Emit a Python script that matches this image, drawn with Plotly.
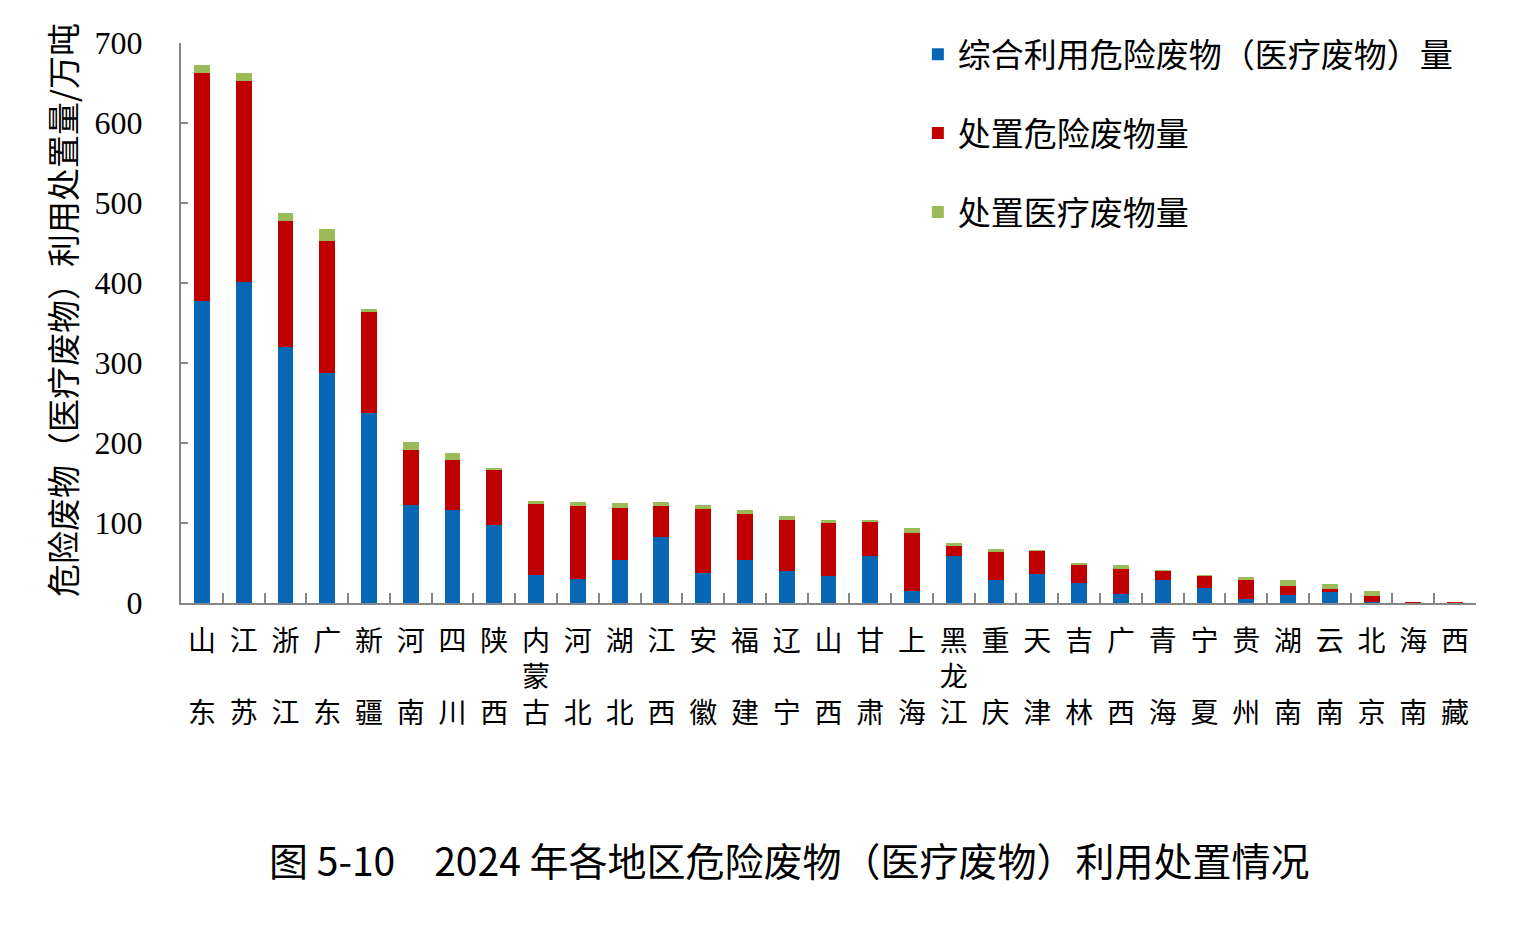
import plotly.graph_objects as go

regions = ["山东", "江苏", "浙江", "广东", "新疆", "河南", "四川", "陕西", "内蒙古", "河北",
           "湖北", "江西", "安徽", "福建", "辽宁", "山西", "甘肃", "上海", "黑龙江", "重庆",
           "天津", "吉林", "广西", "青海", "宁夏", "贵州", "湖南", "云南", "北京", "海南", "西藏"]

utilized = [378, 401, 320, 287, 237, 122, 116, 97, 35, 30,
            54, 83, 38, 54, 40, 34, 59, 15, 59, 29,
            36, 25, 11, 29, 19, 5, 10, 14, 1, 0, 0]
disposed = [284, 252, 157, 166, 127, 69, 63, 70, 89, 91,
            65, 38, 79, 57, 64, 66, 42, 72, 12, 35,
            29, 23, 31, 11, 15, 24, 11, 4, 8, 1, 0.6]
medical = [11, 10, 11, 15, 3, 10, 9, 2, 3, 5,
           6, 5, 5, 5, 5, 4, 3, 7, 4, 3,
           1, 2, 6, 1, 1, 3, 8, 6, 6, 0, 0]

series_names = ["综合利用危险废物（医疗废物）量", "处置危险废物量", "处置医疗废物量"]
series_colors = ["#0767b5", "#c00000", "#9bbb59"]

y_ticks = [0, 100, 200, 300, 400, 500, 600, 700]
y_title = "危险废物（医疗废物）利用处置量/万吨"
chart_title = "图 5-10　2024 年各地区危险废物（医疗废物）利用处置情况"


def stack_label(name):
    chars = list(name)
    if len(chars) == 2:
        return chars[0] + "<br> <br>" + chars[1]
    return "<br>".join(chars)


tick_text = [stack_label(r) for r in regions]

fig = go.Figure()
for name, vals, col in zip(series_names, [utilized, disposed, medical], series_colors):
    fig.add_trace(go.Bar(
        x=regions, y=vals, name=name, legendgroup=name,
        marker=dict(color=col, line=dict(width=0)),
    ))

cjk = "Noto Sans CJK SC"

fig.update_layout(
    barmode="stack",
    bargap=0.62,
    width=1521, height=930,
    margin=dict(l=181, r=45, t=43, b=327),
    plot_bgcolor="white", paper_bgcolor="white",
    font=dict(family=cjk, color="black"),
    legend=dict(
        x=0.569, y=1.03, xanchor="left", yanchor="top",
        traceorder="grouped", tracegroupgap=33,
        font=dict(family=cjk, size=33, color="black"),
        bgcolor="rgba(0,0,0,0)", itemwidth=30,
    ),
    xaxis=dict(
        tickmode="array", tickvals=regions, ticktext=tick_text,
        tickson="boundaries", ticks="inside", ticklen=10, tickwidth=2,
        tickcolor="#868686", showline=True, linecolor="#868686", linewidth=2,
        tickfont=dict(family=cjk, size=28, color="black"),
        ticklabelstandoff=12, showgrid=False, zeroline=False,
        range=[-0.5, len(regions) - 0.5],
    ),
    yaxis=dict(
        range=[0, 700], tickmode="array", tickvals=y_ticks,
        ticks="inside", ticklen=7, tickwidth=2, tickcolor="#868686",
        showline=True, linecolor="#868686", linewidth=2,
        showgrid=False, zeroline=False,
        tickfont=dict(family="Liberation Serif", size=32, color="black"),
        ticklabelstandoff=30,
    ),
    annotations=[
        dict(
            text=chart_title,
            xref="paper", yref="paper", x=0.47, y=-0.457,
            xanchor="center", yanchor="middle", showarrow=False,
            font=dict(family=cjk, size=39, color="black"),
        ),
        dict(
            text=y_title, textangle=-90,
            xref="paper", yref="paper", x=-0.092, y=0.523,
            xanchor="center", yanchor="middle", showarrow=False,
            font=dict(family=cjk, size=33, color="black"),
        ),
    ],
)

fig.write_html("out.html")
